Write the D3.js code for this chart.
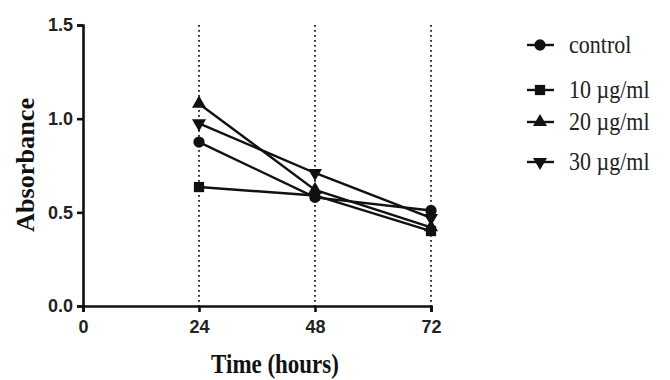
<!DOCTYPE html>
<html>
<head>
<meta charset="utf-8">
<script src="https://cdn.jsdelivr.net/npm/d3@7"></script>
<style>
  body { margin: 0; background: #fff; }
  .axis text { font-family: "Liberation Sans", Arial, sans-serif; font-weight: bold; font-size: 18px; fill: #222; }
  .axis path, .axis line { stroke: #111; stroke-width: 2.6px; }
  .title { font-family: "Liberation Serif", "Times New Roman", serif; font-weight: bold; fill: #111; }
</style>
</head>
<body>
<div id="chart"></div>
<script>
var hours = [24, 48, 72];
var xTicks = [0, 24, 48, 72];
var yTicks = [0.0, 0.5, 1.0, 1.5];

var seriesNames = ["control", "10 \u00b5g/ml", "20 \u00b5g/ml", "30 \u00b5g/ml"];
var seriesSymbols = ["circle", "square", "triangle", "triangleDown"];
var control = [0.875, 0.58, 0.51];
var dose10 = [0.635, 0.59, 0.40];
var dose20 = [1.08, 0.62, 0.42];
var dose30 = [0.975, 0.71, 0.47];
var seriesValues = [control, dose10, dose20, dose30];

var width = 670;
var height = 380;
var margin = {top: 25, left: 83, right: 239, bottom: 74};

var xScale = d3.scaleLinear()
  .domain([0, 72])
  .range([margin.left, width - margin.right]);

var yScale = d3.scaleLinear()
  .domain([0, 1.5])
  .range([height - margin.bottom, margin.top]);

var svg = d3.select("#chart").append("svg")
  .attr("width", width)
  .attr("height", height);

// dotted guides at each time point
svg.append("g")
  .selectAll("line")
  .data(hours).enter()
  .append("line")
  .attr("x1", d => xScale(d))
  .attr("x2", d => xScale(d))
  .attr("y1", yScale(1.5))
  .attr("y2", yScale(0))
  .attr("stroke", "#111")
  .attr("stroke-width", 1.7)
  .attr("stroke-dasharray", "1.7,3.3");

var xAxis = d3.axisBottom(xScale).tickValues(xTicks).tickFormat(d3.format("d")).tickSizeOuter(0).tickSize(6);
var yAxis = d3.axisLeft(yScale).tickValues(yTicks).tickFormat(d3.format(".1f")).tickSizeOuter(0).tickSize(6);

svg.append("g")
  .attr("class", "x axis")
  .attr("transform", `translate(0, ${yScale(0)})`)
  .call(xAxis)
  .selectAll("text")
  .attr("y", 14)
  .attr("dy", "0.71em");

svg.append("g")
  .attr("class", "y axis")
  .attr("transform", `translate(${xScale(0)}, 0)`)
  .call(yAxis)
  .selectAll("text")
  .attr("x", -10);

// squeeze a text horizontally the way the reference figure is squeezed
function squeeze(sel, factor) {
  sel.each(function() {
    var w = this.getComputedTextLength();
    d3.select(this)
      .attr("textLength", w * factor)
      .attr("lengthAdjust", "spacingAndGlyphs");
  });
}

svg.append("text")
  .attr("class", "title")
  .attr("x", 275)
  .attr("y", 373)
  .attr("text-anchor", "middle")
  .style("font-size", "28px")
  .text("Time (hours)")
  .call(squeeze, 0.82);

svg.append("text")
  .attr("class", "title")
  .attr("transform", "translate(34, 165) rotate(-90)")
  .attr("text-anchor", "middle")
  .style("font-size", "25px")
  .text("Absorbance")
  .call(squeeze, 1.05);

var symbolTypes = {
  circle: d3.symbolCircle,
  square: d3.symbolSquare,
  triangle: d3.symbolTriangle,
  triangleDown: d3.symbolTriangle
};
var symbolSizes = {circle: 100, square: 105, triangle: 85, triangleDown: 85};

function symbolPath(name) {
  return d3.symbol().type(symbolTypes[name]).size(symbolSizes[name])();
}
function symbolTransform(name, x, y) {
  return `translate(${x}, ${y})` + (name === "triangleDown" ? " rotate(180)" : "");
}

var line = d3.line()
  .x((d, i) => xScale(hours[i]))
  .y(d => yScale(d));

var series = svg.append("g")
  .selectAll("g")
  .data(seriesValues).enter()
  .append("g");

series.append("path")
  .attr("d", d => line(d))
  .attr("fill", "none")
  .attr("stroke", "#111")
  .attr("stroke-width", 2.4);

series.each(function(vals, s) {
  d3.select(this).selectAll("path.pt")
    .data(vals).enter()
    .append("path")
    .attr("class", "pt")
    .attr("d", symbolPath(seriesSymbols[s]))
    .attr("transform", (d, i) => symbolTransform(seriesSymbols[s], xScale(hours[i]), yScale(d)))
    .attr("fill", "#111");
});

// legend
var legendY = [45, 90, 122, 162];
var legend = svg.append("g")
  .selectAll("g")
  .data(seriesNames).enter()
  .append("g")
  .attr("transform", (d, i) => `translate(540, ${legendY[i]})`);

legend.append("line")
  .attr("x1", -13)
  .attr("x2", 14)
  .attr("stroke", "#111")
  .attr("stroke-width", 2.4);

legend.append("path")
  .attr("d", (d, i) => symbolPath(seriesSymbols[i]))
  .attr("transform", (d, i) => symbolTransform(seriesSymbols[i], 0, 0))
  .attr("fill", "#111");

legend.append("text")
  .attr("x", 29)
  .attr("dy", "0.33em")
  .style("font-family", "'Liberation Serif', 'Times New Roman', serif")
  .style("font-size", "25px")
  .style("fill", "#222")
  .text(d => d)
  .call(squeeze, 0.88);
</script>
</body>
</html>
